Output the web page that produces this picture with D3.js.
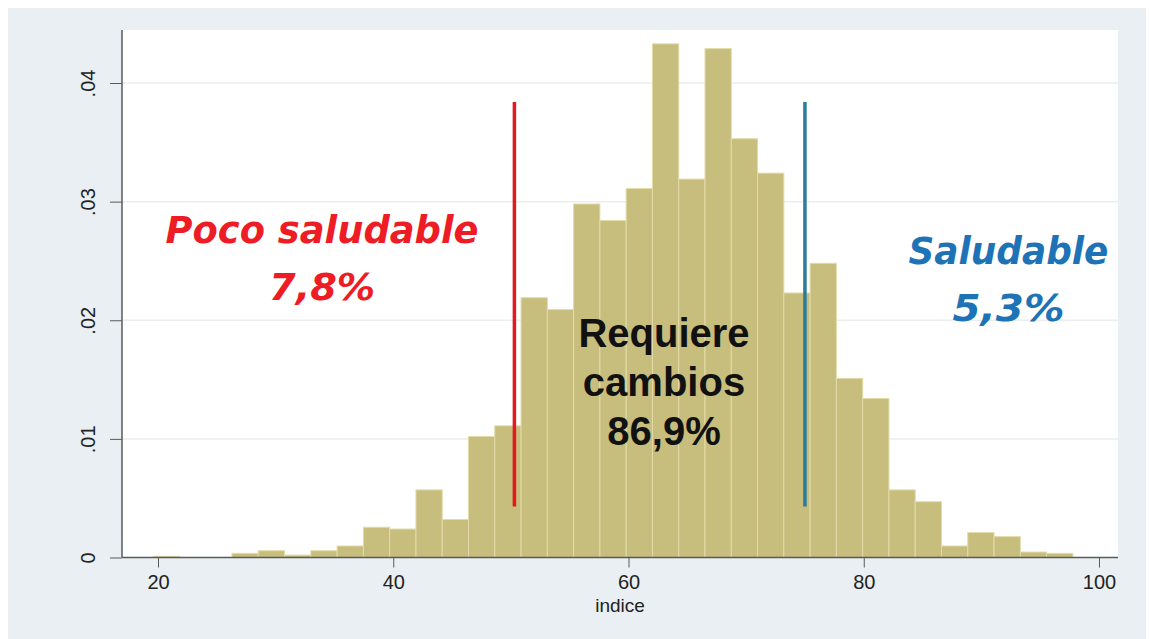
<!DOCTYPE html>
<html>
<head>
<meta charset="utf-8">
<script src="https://cdn.jsdelivr.net/npm/d3@7"></script>
<style>
  body { margin: 0; background: white; }
</style>
</head>
<body>
<div id="chart"></div>
<script>
// histogram data (density per bin)
const binStart = 19.59;
const binWidth = 2.234;
const densities = [0.0001, 0, 0, 0.00035, 0.00057, 0.0002, 0.00057, 0.00097, 0.00255, 0.0024,
  0.0057, 0.0032, 0.0102, 0.0111, 0.0219, 0.0209, 0.0298, 0.0284, 0.0311, 0.0433,
  0.0319, 0.0429, 0.0353, 0.0324, 0.0223, 0.0248, 0.0151, 0.0134, 0.0057, 0.0047,
  0.00097, 0.0021, 0.00176, 0.00046, 0.00035];

const xTicks = [20, 40, 60, 80, 100];
const yTicks = [0, 0.01, 0.02, 0.03, 0.04];
const yTickLabels = ["0", ".01", ".02", ".03", ".04"];

// cut-off lines and their labels
const cutoffs = [
  { x: 50.3, y0: 0.0043, y1: 0.0384, color: "#e3191f" },
  { x: 75, y0: 0.0043, y1: 0.0384, color: "#2a7c9c" }
];
const groupLabels = [
  { lines: ["Poco saludable", "7,8%"], x: 33.95, y: 0.0265, widths: [313, 106], color: "#ee1c25" },
  { lines: ["Saludable", "5,3%"], x: 92.3, y: 0.0247, widths: [200, 112], color: "#1e73b6" }
];
const middleLabel = ["Requiere", "cambios", "86,9%"];

const width = 1149;
const height = 639;

const svg = d3.select("#chart")
  .append("svg")
  .attr("width", width)
  .attr("height", height);

// outer grey background
svg.append("rect")
  .attr("x", 8).attr("y", 8)
  .attr("width", 1138).attr("height", 631)
  .attr("fill", "#e9eff2");

const plotLeft = 122, plotRight = 1118, plotTop = 30, plotBottom = 557.5;

// white plot region
svg.append("rect")
  .attr("x", plotLeft).attr("y", plotTop)
  .attr("width", plotRight - plotLeft).attr("height", plotBottom - plotTop)
  .attr("fill", "white");

const x = d3.scaleLinear().domain([20, 100]).range([158, 1099]);
const y = d3.scaleLinear().domain([0, 0.04]).range([plotBottom, 83]);

// grid lines
svg.append("g")
  .selectAll("line")
  .data(yTicks.slice(1))
  .enter().append("line")
  .attr("x1", plotLeft).attr("x2", plotRight)
  .attr("y1", d => y(d)).attr("y2", d => y(d))
  .attr("stroke", "#eaeef1")
  .attr("stroke-width", 1.5);

// bars
svg.append("g")
  .selectAll("rect")
  .data(densities)
  .enter().append("rect")
  .attr("x", (d, i) => x(binStart + i * binWidth))
  .attr("width", x(binStart + binWidth) - x(binStart))
  .attr("y", d => y(d))
  .attr("height", d => y(0) - y(d))
  .attr("fill", "#c7bd7d")
  .attr("stroke", "#e2dba8")
  .attr("stroke-width", 1);

// y axis
const yAxis = svg.append("g")
  .attr("transform", `translate(${plotLeft},0)`)
  .call(d3.axisLeft(y).tickValues(yTicks).tickSize(12).tickFormat((d, i) => yTickLabels[i]));
yAxis.select(".domain").attr("d", `M0,${plotTop}V${plotBottom}`)
  .attr("stroke", "#5a5a5a").attr("stroke-width", 1.5);
yAxis.selectAll("line").attr("stroke", "#5a5a5a");
yAxis.selectAll("text")
  .attr("transform", "translate(-34,0) rotate(-90)")
  .attr("x", 0).attr("y", 0).attr("dy", "0.35em")
  .attr("text-anchor", "middle")
  .style("font-family", "Liberation Sans, Arial")
  .style("font-size", "20px")
  .attr("fill", "#222");

// x axis
const xAxis = svg.append("g")
  .attr("transform", `translate(0,${plotBottom})`)
  .call(d3.axisBottom(x).tickValues(xTicks).tickSize(10).tickFormat(d3.format("d")));
xAxis.select(".domain").attr("d", `M${plotLeft},0H${plotRight}`)
  .attr("stroke", "#5a5a5a").attr("stroke-width", 1.5);
xAxis.selectAll("line").attr("stroke", "#5a5a5a");
xAxis.selectAll("text")
  .attr("y", 17)
  .style("font-family", "Liberation Sans, Arial")
  .style("font-size", "20px")
  .attr("fill", "#222");

// x axis title
svg.append("text")
  .attr("x", (plotLeft + plotRight) / 2)
  .attr("y", 612)
  .attr("text-anchor", "middle")
  .style("font-family", "Liberation Sans, Arial")
  .style("font-size", "19px")
  .attr("fill", "#222")
  .text("indice");

// cut-off lines
svg.append("g")
  .selectAll("line")
  .data(cutoffs)
  .enter().append("line")
  .attr("x1", d => x(d.x)).attr("x2", d => x(d.x))
  .attr("y1", d => y(d.y0)).attr("y2", d => y(d.y1))
  .attr("stroke", d => d.color)
  .attr("stroke-width", 3.5);

// handwritten-style group labels
groupLabels.forEach(g => {
  g.lines.forEach((line, i) => {
    svg.append("text")
      .attr("x", x(g.x))
      .attr("y", y(g.y) + i * 57)
      .attr("text-anchor", "middle")
      .attr("textLength", g.widths[i])
      .attr("lengthAdjust", "spacingAndGlyphs")
      .style("font-family", "Comic Sans MS, DejaVu Sans")
      .style("font-style", "italic")
      .style("font-weight", "bold")
      .style("font-size", "37px")
      .attr("fill", g.color)
      .text(line);
  });
});

// middle label
middleLabel.forEach((line, i) => {
  svg.append("text")
    .attr("x", 664)
    .attr("y", 347 + i * 49)
    .attr("text-anchor", "middle")
    .style("font-family", "Liberation Sans, Arial")
    .style("font-weight", "bold")
    .style("font-size", "40px")
    .attr("fill", "#111")
    .text(line);
});
</script>
</body>
</html>
